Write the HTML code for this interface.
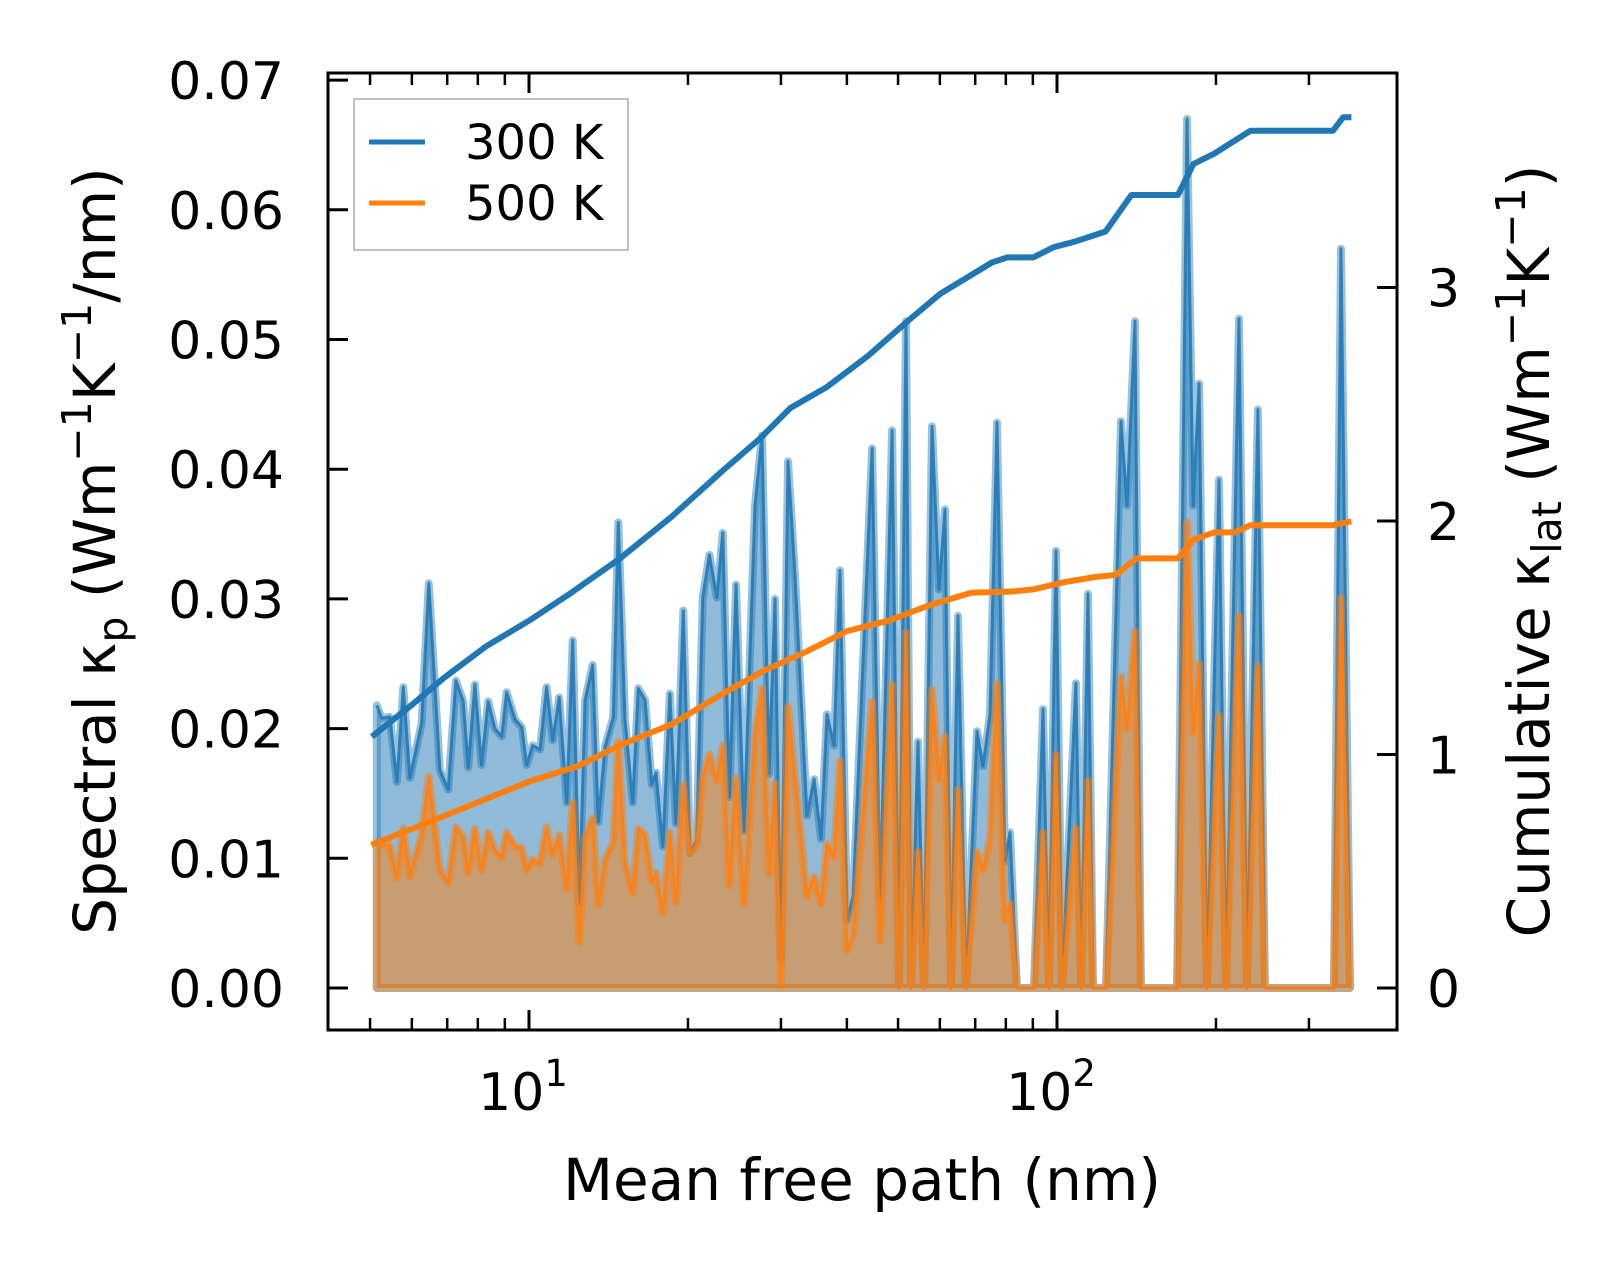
<!DOCTYPE html>
<html>
<head>
<meta charset="utf-8">
<style>
  html,body{margin:0;padding:0;background:#fff;}
  svg{display:block;font-family:"DejaVu Sans","Liberation Sans",sans-serif;}
</style>
</head>
<body>
<svg id="chart" width="1623" height="1269" viewBox="0 0 1623 1269" xmlns="http://www.w3.org/2000/svg">
  <rect x="0" y="0" width="1623" height="1269" fill="#ffffff"/>
  <g id="plot"></g>
  <g id="axes"></g>
</svg>
<script>
// ---- data ----
const mfp = [5.15,5.26,5.45,5.62,5.78,5.95,6.26,6.46,6.78,7.03,7.27,7.51,7.67,7.90,8.13,8.37,8.62,8.88,9.07,9.41,9.69,9.90,10.16,10.49,10.80,11.09,11.41,11.79,12.10,12.46,12.77,13.20,13.53,13.93,14.44,14.76,15.20,15.72,16.11,16.59,17.08,17.40,17.92,18.49,18.98,19.60,20.18,20.78,21.33,21.96,22.68,23.28,23.96,24.66,25.54,26.79,27.63,28.48,29.24,30.01,30.94,31.90,33.62,34.67,35.73,36.68,37.82,38.82,40.03,41.09,44.64,46.23,48.71,50.21,51.76,52.90,54.54,55.99,57.98,59.78,61.37,62.99,64.94,67.25,70.55,72.41,74.66,76.98,79.70,81.47,84.00,90.45,94.08,96.55,99.56,102.2,108.6,111.1,114.5,117.0,123.8,132.2,135.7,140.5,144.2,168.8,176.3,181.0,185.8,192.3,202.7,209.0,221.2,228.9,240.2,247.6,334.6,345.0,358.8];
const k300 = [0.0218,0.0208,0.0209,0.0159,0.0232,0.0162,0.0204,0.0312,0.0168,0.0153,0.0237,0.0221,0.0170,0.0234,0.0172,0.0221,0.0200,0.0194,0.0228,0.0207,0.0201,0.0172,0.0187,0.0184,0.0232,0.0191,0.0224,0.0143,0.0268,0.0066,0.0222,0.0249,0.0128,0.0186,0.0209,0.0359,0.0207,0.0143,0.0231,0.0222,0.0157,0.0166,0.0109,0.0227,0.0127,0.0291,0.0104,0.0114,0.0301,0.0334,0.0301,0.0351,0.0147,0.0311,0.0121,0.0372,0.0426,0.0165,0.0300,0.0022,0.0406,0.0318,0.0133,0.0161,0.0115,0.0211,0.0187,0.0322,0.0052,0.0071,0.0416,0.0068,0.0430,0,0.0514,0,0.0190,0,0.0433,0.0307,0.0369,0,0.0287,0,0.0198,0.0171,0.0211,0.0436,0.0098,0.0120,0,0,0.0215,0,0.0337,0,0.0235,0,0.0304,0,0,0.0437,0.0372,0.0514,0,0,0.0670,0.0372,0.0466,0,0.0392,0,0.0516,0,0.0446,0,0,0.0570,0];
const k500 = [0.0112,0.0110,0.0110,0.0085,0.0123,0.0086,0.0118,0.0163,0.0091,0.0081,0.0124,0.0116,0.0089,0.0123,0.0091,0.0120,0.0106,0.0101,0.0120,0.0109,0.0108,0.0091,0.0099,0.0096,0.0124,0.0103,0.0118,0.0076,0.0143,0.0035,0.0116,0.0131,0.0064,0.0099,0.0112,0.0190,0.0096,0.0073,0.0123,0.0118,0.0082,0.0089,0.0058,0.0120,0.0066,0.0157,0.0104,0.0110,0.0163,0.0180,0.0160,0.0187,0.0079,0.0162,0.0065,0.0195,0.0231,0.0088,0.0158,0,0.0217,0.0161,0.0071,0.0086,0.0065,0.0111,0.0101,0.0175,0.0029,0.0041,0.0221,0.0036,0.0234,0,0.0274,0,0.0105,0,0.0230,0.0161,0.0194,0,0.0153,0,0.0105,0.0091,0.0115,0.0235,0.0052,0.0065,0,0,0.0120,0,0.0180,0,0.0123,0,0.0160,0,0,0.0240,0.0200,0.0275,0,0,0.0359,0.0197,0.0250,0,0.0210,0,0.0287,0,0.0248,0,0,0.0301,0];
const cumMfp300 = [5.09,6.04,6.91,8.28,10,11.87,14.87,18.62,23.33,27.32,31.27,36.62,43.85,52.52,60.08,75.28,80.55,90.16,98.65,107.97,123.6,138.3,169.4,181.3,198.4,232.3,333.1,348.4,356.3];
const cum300 = [1.084,1.218,1.329,1.462,1.573,1.684,1.84,2.018,2.218,2.351,2.484,2.573,2.707,2.862,2.973,3.107,3.129,3.129,3.173,3.196,3.24,3.396,3.396,3.529,3.573,3.671,3.671,3.729,3.729];
const cumMfp500 = [5.09,6.04,7.56,10,12.41,14.87,18.62,23.33,27.94,33.45,40.06,47.97,57.43,68.80,82.39,90.16,103.2,118.1,129.3,141.5,169.4,181.3,198.4,217.1,232.3,333.1,356.3];
const cum500 = [0.618,0.684,0.773,0.884,0.951,1.04,1.129,1.262,1.36,1.44,1.529,1.573,1.64,1.693,1.698,1.707,1.738,1.76,1.769,1.84,1.84,1.92,1.951,1.951,1.982,1.982,1.996];
const leftTicks = [0,0.01,0.02,0.03,0.04,0.05,0.06,0.07];
const leftTickLabels = ["0.00","0.01","0.02","0.03","0.04","0.05","0.06","0.07"];
const rightTicks = [0,1,2,3];
const rightTickLabels = ["0","1","2","3"];
const xMajor = [10,100];
const xMajorExp = ["1","2"];
const xMinor = [5,6,7,8,9,20,30,40,50,60,70,80,90,200,300];

// ---- axes ----
const AX = {l:328, r:1397, t:73, b:1030};
function xs(m){ return 529 + (Math.log10(m) - 1) * 528; }
function yl(v){ return 988 - v * 12970; }
function yr(v){ return 988 - v * 233.5; }

const NS = "http://www.w3.org/2000/svg";
function mk(tag, attrs, parent){
  const e = document.createElementNS(NS, tag);
  for (const k in attrs) e.setAttribute(k, attrs[k]);
  parent.appendChild(e);
  return e;
}
const plot = document.getElementById('plot');
const axes = document.getElementById('axes');
const BLUE = "#1f77b4", ORANGE = "#ff7f0e";

function spectral(vals, color, name){
  let pts = xs(mfp[0]).toFixed(1) + "," + yl(0).toFixed(1);
  let line = "";
  for (let i = 0; i < mfp.length; i++){
    const p = xs(mfp[i]).toFixed(1) + "," + yl(vals[i]).toFixed(1);
    pts += " " + p;
    line += (i ? " " : "") + p;
  }
  pts += " " + xs(mfp[mfp.length-1]).toFixed(1) + "," + yl(0).toFixed(1);
  const poly = mk('polygon', {points: pts, fill: color, 'fill-opacity': 0.5, stroke: color, 'stroke-opacity': 0.45, 'stroke-width': 8, 'stroke-linejoin': 'round'}, plot);
  
  
  const pl = mk('polyline', {points: line, fill: 'none', stroke: color, 'stroke-opacity': 0.85, 'stroke-width': 3, 'stroke-linejoin': 'round'}, plot);
  
  
}
spectral(k300, BLUE, 'spectral-300k');
spectral(k500, ORANGE, 'spectral-500k');

function cumulative(xsArr, vals, color, name){
  let line = "";
  for (let i = 0; i < xsArr.length; i++){
    line += (i ? " " : "") + xs(xsArr[i]).toFixed(1) + "," + yr(vals[i]).toFixed(1);
  }
  const pl = mk('polyline', {points: line, fill: 'none', stroke: color, 'stroke-width': 6, 'stroke-linejoin': 'round', 'stroke-linecap': 'square'}, plot);
  
  
}
cumulative(cumMfp300, cum300, BLUE, 'cumulative-300k-line');
cumulative(cumMfp500, cum500, ORANGE, 'cumulative-500k-line');

// spines
const frame = mk('rect', {x: AX.l, y: AX.t, width: AX.r-AX.l, height: AX.b-AX.t, fill: 'none', stroke: '#000', 'stroke-width': 3}, axes);



// left ticks
leftTicks.forEach((v, i) => {
  const y = yl(v);
  const t = mk('line', {x1: AX.l, x2: AX.l+20, y1: y, y2: y, stroke: '#000', 'stroke-width': 3}, axes);
  
  
  const tx = mk('text', {x: 284, y: y + 19, 'font-size': 52, 'text-anchor': 'end', fill: '#000'}, axes);
  tx.textContent = leftTickLabels[i];
  
  
});
// right ticks
rightTicks.forEach((v, i) => {
  const y = yr(v);
  const t = mk('line', {x1: AX.r-20, x2: AX.r, y1: y, y2: y, stroke: '#000', 'stroke-width': 3}, axes);
  
  
  const tx = mk('text', {x: 1427, y: y + 19, 'font-size': 52, 'text-anchor': 'start', fill: '#000'}, axes);
  tx.textContent = rightTickLabels[i];
  
  
});
// x ticks
xMajor.forEach((m, i) => {
  const x = xs(m);
  [[AX.b, AX.b-20],[AX.t, AX.t+20]].forEach(([a, b]) => {
    const t = mk('line', {x1: x, x2: x, y1: a, y2: b, stroke: '#000', 'stroke-width': 3}, axes);
    
    
  });
  const tx = mk('text', {x: x - 6, y: 1110, 'font-size': 52, 'text-anchor': 'middle', fill: '#000'}, axes);
  
  
  tx.innerHTML = '10<tspan font-size="37" dy="-24">' + xMajorExp[i] + '</tspan>';
});
xMinor.forEach(m => {
  const x = xs(m);
  [[AX.b, AX.b-12],[AX.t, AX.t+12]].forEach(([a, b]) => {
    const t = mk('line', {x1: x, x2: x, y1: a, y2: b, stroke: '#000', 'stroke-width': 2.5}, axes);
    
    
  });
});
</script>
<script>
(function(){
  const svg = document.getElementById('chart');
  const NS = "http://www.w3.org/2000/svg";
  const g = document.createElementNS(NS, 'g');
  
  
  g.innerHTML =
  '<text x="862" y="1200" font-size="58" text-anchor="middle">Mean free path (nm)</text>' +
  '<text transform="translate(115,551) rotate(-90)" font-size="58" text-anchor="middle">Spectral κ<tspan font-size="41" dy="12">p</tspan><tspan dy="-12"> (Wm</tspan><tspan font-size="41" dy="-24">−1</tspan><tspan dy="24">K</tspan><tspan font-size="41" dy="-24">−1</tspan><tspan dy="24">/nm)</tspan></text>' +
  '<text transform="translate(1549,551) rotate(-90)" font-size="58" text-anchor="middle">Cumulative κ<tspan font-size="41" dy="12">lat</tspan><tspan dy="-12"> (Wm</tspan><tspan font-size="41" dy="-24">−1</tspan><tspan dy="24">K</tspan><tspan font-size="41" dy="-24">−1</tspan><tspan dy="24">)</tspan></text>' +
  '<g>' +
    '<rect x="354" y="99" width="274" height="151" fill="#fff" fill-opacity="0.8" stroke="#aaa" stroke-width="1.5"/>' +
    '<line x1="369" x2="425" y1="142" y2="142" stroke="#1f77b4" stroke-width="5"/>' +
    '<text x="465" y="159" font-size="48">300 K</text>' +
    '<line x1="369" x2="425" y1="203" y2="203" stroke="#ff7f0e" stroke-width="5"/>' +
    '<text x="465" y="220" font-size="48">500 K</text>' +
  '</g>';
  svg.appendChild(g);
})();
</script>
</body>
</html>
